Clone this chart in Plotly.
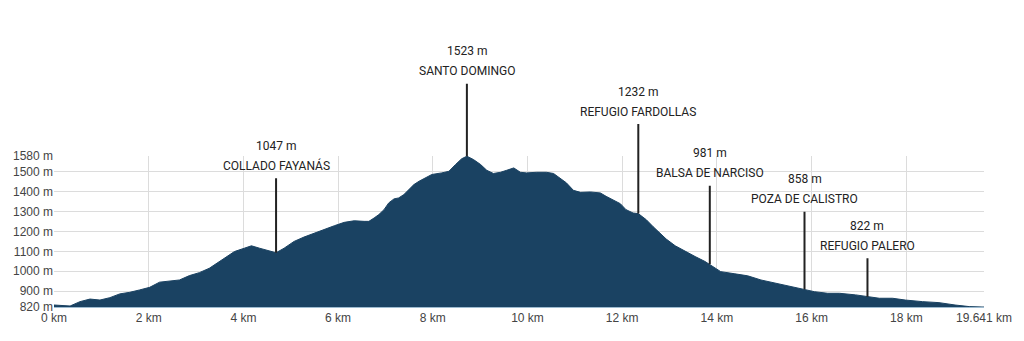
import numpy as np
import plotly.graph_objects as go

# Elevation profile (distance km, elevation m)
dist_km = [0.0, 0.34, 0.55, 0.76, 0.97, 1.18, 1.39, 1.60, 1.81, 2.02, 2.23, 2.44, 2.65, 2.86,
           3.07, 3.28, 3.39, 3.60, 3.81, 4.02, 4.17, 4.34, 4.51, 4.69, 4.86, 5.07, 5.28, 5.49,
           5.71, 5.92, 6.13, 6.34, 6.55, 6.65, 6.76, 6.86, 6.97, 7.07, 7.18, 7.28, 7.39, 7.49,
           7.60, 7.71, 7.85, 7.98, 8.19, 8.34, 8.48, 8.61, 8.72, 8.86, 9.01, 9.14, 9.28, 9.43,
           9.56, 9.71, 9.85, 9.98, 10.19, 10.40, 10.55, 10.69, 10.82, 10.97, 11.12, 11.33,
           11.54, 11.66, 11.81, 11.96, 12.08, 12.23, 12.34, 12.51, 12.65, 12.80, 12.93, 13.12,
           13.33, 13.54, 13.75, 13.87, 14.08, 14.38, 14.59, 14.65, 14.93, 15.22, 15.49, 15.85,
           16.06, 16.34, 16.59, 16.93, 17.18, 17.43, 17.71, 17.98, 18.34, 18.69, 19.03, 19.33,
           19.60, 19.641]
elev_m = [830, 825, 847, 860, 855, 867, 886, 894, 906, 919, 945, 951, 956, 978,
          993, 1015, 1032, 1066, 1099, 1116, 1128, 1116, 1103, 1093, 1116, 1150, 1172, 1192,
          1212, 1229, 1246, 1254, 1251, 1251, 1268, 1285, 1310, 1344, 1364, 1369, 1386, 1411,
          1436, 1453, 1470, 1487, 1495, 1503, 1537, 1566, 1579, 1562, 1537, 1508, 1492, 1498,
          1508, 1520, 1498, 1495, 1498, 1498, 1492, 1470, 1445, 1407, 1397, 1399,
          1394, 1377, 1360, 1340, 1310, 1293, 1290, 1259, 1225, 1192, 1162, 1128,
          1099, 1074, 1049, 1032, 998, 987, 982, 977, 956, 940, 926, 909,
          897, 889, 889, 881, 872, 864, 864, 855, 847, 842, 830, 822,
          820, 820]

# Waypoints
wp_km = [4.69, 8.72, 12.34, 13.85, 15.85, 17.18]
wp_label_elev = ["1047 m", "1523 m", "1232 m", "981 m", "858 m", "822 m"]
wp_names = ["COLLADO FAYANÁS", "SANTO DOMINGO", "REFUGIO FARDOLLAS",
            "BALSA DE NARCISO", "POZA DE CALISTRO", "REFUGIO PALERO"]
wp_line_px = [76, 74, 91, 80, 79, 40]

y_ticks = [820, 900, 1000, 1100, 1200, 1300, 1400, 1500, 1580]
x_ticks = [0, 2, 4, 6, 8, 10, 12, 14, 16, 18, 19.641]
x_ticktext = ["0 km", "2 km", "4 km", "6 km", "8 km", "10 km", "12 km", "14 km",
              "16 km", "18 km", "19.641 km"]

FILL = "#1a4262"
LABEL_FONT = "Roboto, sans-serif"
LBL = dict(family=LABEL_FONT, size=12, color="#222222")

fig = go.Figure()
fig.add_trace(go.Scatter(
    x=dist_km, y=elev_m, mode="lines", fill="tozeroy",
    line=dict(color=FILL, width=1), fillcolor=FILL, hoverinfo="skip",
))

for km, le, name, L in zip(wp_km, wp_label_elev, wp_names, wp_line_px):
    yv = float(np.interp(km, dist_km, elev_m))
    # vertical marker line
    fig.add_annotation(
        x=km, y=yv, xref="x", yref="y", text="", showarrow=True, arrowhead=0,
        arrowwidth=2, arrowcolor="#222222", ax=0, ay=-L,
        standoff=0, startstandoff=0,
    )
    # place name
    fig.add_annotation(
        x=km, y=yv, xref="x", yref="y", text=name, showarrow=False,
        yanchor="middle", xanchor="center", yshift=L + 11, font=LBL,
    )
    # elevation label
    fig.add_annotation(
        x=km, y=yv, xref="x", yref="y", text=le, showarrow=False,
        yanchor="middle", xanchor="center", yshift=L + 31, font=LBL,
    )

fig.update_layout(
    width=1024, height=341,
    margin=dict(l=54, r=37, t=156, b=34),
    paper_bgcolor="white", plot_bgcolor="white",
    showlegend=False,
    xaxis=dict(range=[0, 19.641], tickvals=x_ticks, ticktext=x_ticktext,
               showgrid=True, gridcolor="#dcdcdc", gridwidth=1, zeroline=False,
               showline=True, linecolor="#9dbbd0", linewidth=1,
               tickfont=dict(family="Liberation Sans, Arial, sans-serif", size=12, color="#444444"),
               fixedrange=True),
    yaxis=dict(range=[820, 1580], tickvals=y_ticks, ticktext=[f"{v} m" for v in y_ticks],
               showgrid=True, gridcolor="#dcdcdc", gridwidth=1, zeroline=False,
               tickfont=dict(family="Liberation Sans, Arial, sans-serif", size=12, color="#444444"),
               fixedrange=True),
)

fig.write_html("out.html")
